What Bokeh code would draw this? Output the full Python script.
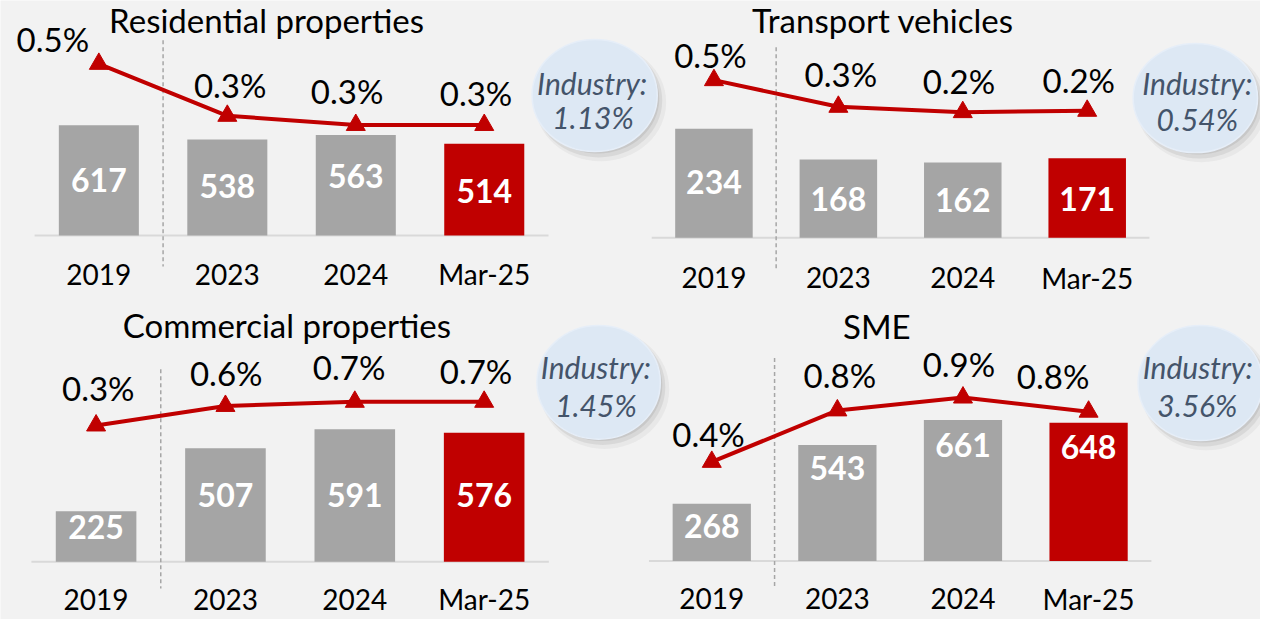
from bokeh.plotting import figure
from bokeh.models import Range1d, ColumnDataSource
from bokeh.core.properties import value
from bokeh.embed import file_html
from bokeh.resources import INLINE

# ---------------- data ----------------
categories = ["2019", "2023", "2024", "Mar-25"]
titles = ["Residential properties", "Transport vehicles", "Commercial properties", "SME"]

residential_npl = [617, 538, 563, 514]
transport_npl = [234, 168, 162, 171]
commercial_npl = [225, 507, 591, 576]
sme_npl = [268, 543, 661, 648]

residential_ratio = [0.50, 0.33, 0.30, 0.30]
transport_ratio = [0.46, 0.26, 0.22, 0.23]
commercial_ratio = [0.30, 0.63, 0.70, 0.70]
sme_ratio = [0.40, 0.80, 0.90, 0.79]

residential_ratio_labels = ["0.5%", "0.3%", "0.3%", "0.3%"]
transport_ratio_labels = ["0.5%", "0.3%", "0.2%", "0.2%"]
commercial_ratio_labels = ["0.3%", "0.6%", "0.7%", "0.7%"]
sme_ratio_labels = ["0.4%", "0.8%", "0.9%", "0.8%"]

industry_label = "Industry:"
industry_ratio = ["1.13%", "0.54%", "1.45%", "3.56%"]

# ---------------- layout (reference pixel frame 1276 x 635) ----------------
REF_W, REF_H = 1276, 635
W, H = 1260, 619
SX, SY = W / REF_W, H / REF_H
MID_FIX = -2              # screen px correction for "middle" baseline

FONT = value("Lato")
BG = "#f2f2f2"
GREY = "#a5a5a5"
RED = "#c00000"
INK = "#44546a"

LAYOUT = [
    dict(x0=99.6, dx=130.1, base=241.0, kb=0.183, lz=221.75, lk=313.5,
         title=(269.4, 22.5), sep=(40.7, 273.0), cat_y=283.0,
         ell=(601.7, 97.5, 63.4, 57.5), ind=((599.2, 86.7), (600.0, 122.0)),
         lab_dx=[-46.6, 2.9, -8.8, -8.3], lab_dy=[-23.3, -30.0, -32.7, -30.4],
         bar_dy=[2, 1, -7, 3]),
    dict(x0=722.5, dx=126.0, base=243.5, kb=0.478, lz=144.6, lk=136.7,
         title=(893.6, 22.5), sep=(48.0, 275.0), cat_y=286.3,
         ell=(1210.0, 100.0, 63.0, 56.0), ind=((1212.0, 87.0), (1212.0, 124.0)),
         lab_dx=[-3.5, 2.5, -3.9, -8.5], lab_dy=[-23.4, -31.8, -29.5, -29.9],
         bar_dy=[1, 2, 2, 3]),
    dict(x0=96.8, dx=131.0, base=575.7, kb=0.2297, lz=454.2, lk=60.75,
         title=(290.0, 335.3), sep=(378.3, 603.3), cat_y=616.3,
         ell=(605.7, 391.7, 62.5, 58.3), ind=((603.0, 378.3), (603.0, 416.7)),
         lab_dx=[2.2, 0.8, -5.8, -8.2], lab_dy=[-36.0, -31.9, -33.4, -30.0],
         bar_dy=[-7.5, -8.5, 2, 0]),
    dict(x0=720.3, dx=127.2, base=575.0, kb=0.219, lz=526.1, lk=132.0,
         title=(887.5, 336.3), sep=(366.7, 603.3), cat_y=615.8,
         ell=(1215.0, 392.5, 63.0, 59.0), ind=((1212.5, 378.3), (1212.0, 416.7)),
         lab_dx=[-3.3, 2.5, -4.1, -35.9], lab_dy=[-26.6, -34.5, -32.3, -34.5],
         bar_dy=[-4.3, -33.8, -44.5, -44.0]),
]

bars = [residential_npl, transport_npl, commercial_npl, sme_npl]
ratios = [residential_ratio, transport_ratio, commercial_ratio, sme_ratio]
ratio_labels = [residential_ratio_labels, transport_ratio_labels,
                commercial_ratio_labels, sme_ratio_labels]

p = figure(width=W, height=H, output_backend="svg", toolbar_location=None,
           x_axis_type=None, y_axis_type=None,
           x_range=Range1d(0, REF_W), y_range=Range1d(REF_H, 0),
           min_border=0, background_fill_color=BG, border_fill_color=BG,
           outline_line_color=None)
p.grid.visible = False

for k, L in enumerate(LAYOUT):
    xn, bn, ln = f"x{k}", f"b{k}", f"l{k}"
    x0, dx, base, kb, lz, lk = L["x0"], L["dx"], L["base"], L["kb"], L["lz"], L["lk"]
    p.extra_x_ranges[xn] = Range1d(-x0 / dx, (REF_W - x0) / dx)
    p.extra_y_ranges[bn] = Range1d((base - REF_H) / kb, base / kb)
    p.extra_y_ranges[ln] = Range1d((lz - REF_H) / lk, lz / lk)

    px2x = lambda px, x0=x0, dx=dx: (px - x0) / dx
    py2y = lambda py, base=base, kb=kb: (base - py) / kb
    kw = dict(x_range_name=xn, y_range_name=bn)

    idx = list(range(len(categories)))
    vals = bars[k]
    n = len(vals)
    colors = [GREY] * (n - 1) + [RED]

    # Industry bubble (shadow + ellipse + text)
    ex, ey, erx, ery = L["ell"]
    for (ox, oy, grow, a) in [(6, 7, 3, 0.09), (4, 5, 1, 0.15), (3, 3, -1, 0.18)]:
        p.ellipse(x=[px2x(ex + ox)], y=[py2y(ey + oy)],
                  width=[2 * (erx + grow) / dx], height=[2 * (ery + grow) / kb],
                  fill_color="#808080", fill_alpha=a, line_color=None, **kw)
    p.ellipse(x=[px2x(ex)], y=[py2y(ey)], width=[2 * erx / dx], height=[2 * ery / kb],
              fill_color="#dde8f4", line_color="#e6eef8", line_width=1.5, **kw)
    (ix1, iy1), (ix2, iy2) = L["ind"]
    p.text(x=[px2x(ix1), px2x(ix2)], y=[py2y(iy1), py2y(iy2)],
           text=[industry_label, industry_ratio[k]], y_offset=MID_FIX,
           text_font=FONT, text_font_size="30px", text_font_style="italic",
           text_color=INK, text_align="center", text_baseline="middle", **kw)

    # baseline
    p.segment(x0=[-0.5], y0=[0], x1=[n - 0.5], y1=[0],
              line_color="#d9d9d9", line_width=2, **kw)

    # bars
    src = ColumnDataSource(dict(x=idx, top=vals, color=colors,
                                mid=[v / 2 for v in vals],
                                lab=[str(v) for v in vals],
                                dy=[d * SY + MID_FIX for d in L["bar_dy"]]))
    p.vbar(x="x", top="top", bottom=0, width=0.623, fill_color="color",
           line_color=None, source=src, **kw)
    p.text(x="x", y="mid", text="lab", y_offset="dy", source=src,
           text_font=FONT, text_font_size="32px", text_font_style="bold",
           text_color="white", text_align="center", text_baseline="middle", **kw)

    # separator between 2019 and 2023
    s_top, s_bot = L["sep"]
    p.segment(x0=[0.5], y0=[py2y(s_top)], x1=[0.5], y1=[py2y(s_bot)],
              line_color="#a6a6a6", line_width=1.5, line_dash="4 3", **kw)

    # category labels
    p.text(x=idx, y=[py2y(L["cat_y"])] * n, text=categories, y_offset=MID_FIX,
           text_font=FONT, text_font_size="28px", text_color="black",
           text_align="center", text_baseline="middle", **kw)

    # title
    tx, ty = L["title"]
    p.text(x=[px2x(tx)], y=[py2y(ty)], text=[titles[k]], y_offset=MID_FIX,
           text_font=FONT, text_font_size="33px", text_color="black",
           text_align="center", text_baseline="middle", **kw)

    # ratio line
    lkw = dict(x_range_name=xn, y_range_name=ln)
    lsrc = ColumnDataSource(dict(x=idx, y=ratios[k], lab=ratio_labels[k],
                                 dx=[d * SX for d in L["lab_dx"]],
                                 dy=[d * SY + MID_FIX for d in L["lab_dy"]]))
    p.line(x="x", y="y", line_color=RED, line_width=4, source=lsrc, **lkw)
    p.scatter(x="x", y="y", marker="triangle", size=19, fill_color=RED,
              line_color=RED, source=lsrc, **lkw)
    p.text(x="x", y="y", text="lab", x_offset="dx", y_offset="dy", source=lsrc,
           text_font=FONT, text_font_size="33px", text_color="black",
           text_align="center", text_baseline="middle", **lkw)

open("out.html", "w").write(file_html(p, INLINE))
